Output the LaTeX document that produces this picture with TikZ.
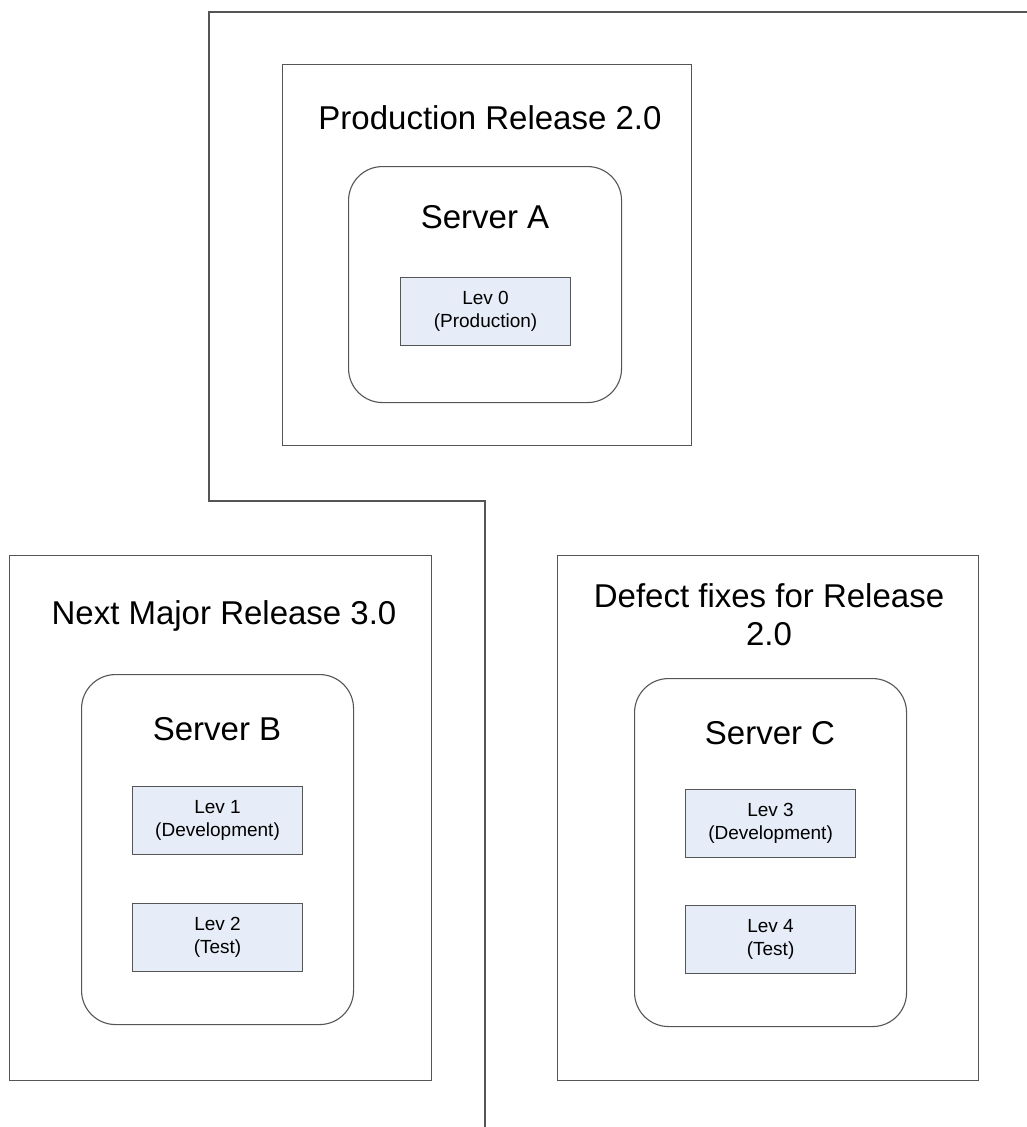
\documentclass[tikz,border=0pt]{standalone}
\usepackage{fontspec}
\setmainfont{Liberation Sans}
\definecolor{ln}{HTML}{555555}
\definecolor{levfill}{HTML}{E7EDF8}
\begin{document}
\begin{tikzpicture}[x=1pt,y=-1pt,
  frame/.style={draw=ln, line width=1.1pt, anchor=north west, inner sep=0pt},
  server/.style={frame, rounded corners=34pt},
  lev/.style={draw=ln, line width=1.1pt, fill=levfill, anchor=north west,
    minimum width=170pt, minimum height=68pt, inner sep=0pt, align=center,
    font=\fontsize{19}{23}\selectfont},
  big/.style={inner sep=0pt, align=center, font=\fontsize{33}{38}\selectfont},
  conn/.style={draw=ln, line width=1.1pt}]
\useasboundingbox[fill=white] (0,0) rectangle (1027,1127);

% outer separating line
\coordinate (p1) at (1027,12);
\coordinate (p2) at (209,12);
\coordinate (p3) at (209,501);
\coordinate (p4) at (485,501);
\coordinate (p5) at (485,1127);
\draw[conn] (p1) -- (p2) -- (p3) -- (p4) -- (p5);

% Production release
\node[frame, minimum width=409pt, minimum height=381pt] (prod) at (282,64) {};
\node[big, anchor=base] (prodT) at (490,129) {Production Release 2.0};
\node[server, minimum width=273pt, minimum height=236pt] (srvA) at (348,166) {};
\node[big, anchor=base] (srvAT) at (485,228) {Server A};
\node[lev] (lev0) at (400,277) {Lev 0\\(Production)};

% Next major release
\node[frame, minimum width=422pt, minimum height=525pt] (next) at (9,555) {};
\node[big, anchor=base] (nextT) at (224,624) {Next Major Release 3.0};
\node[server, minimum width=272pt, minimum height=350pt] (srvB) at (81,674) {};
\node[big, anchor=base] (srvBT) at (217,740) {Server B};
\node[lev] (lev1) at (132,786) {Lev 1\\(Development)};
\node[lev] (lev2) at (132,903) {Lev 2\\(Test)};

% Defect fixes
\node[frame, minimum width=421pt, minimum height=525pt] (defect) at (557,555) {};
\node[big, anchor=north] (defectT) at (769,583) {Defect fixes for Release\\2.0};
\node[server, minimum width=272pt, minimum height=348pt] (srvC) at (634,678) {};
\node[big, anchor=base] (srvCT) at (770,744) {Server C};
\node[lev] (lev3) at (685,789) {Lev 3\\(Development)};
\node[lev] (lev4) at (685,905) {Lev 4\\(Test)};
\end{tikzpicture}
\end{document}
